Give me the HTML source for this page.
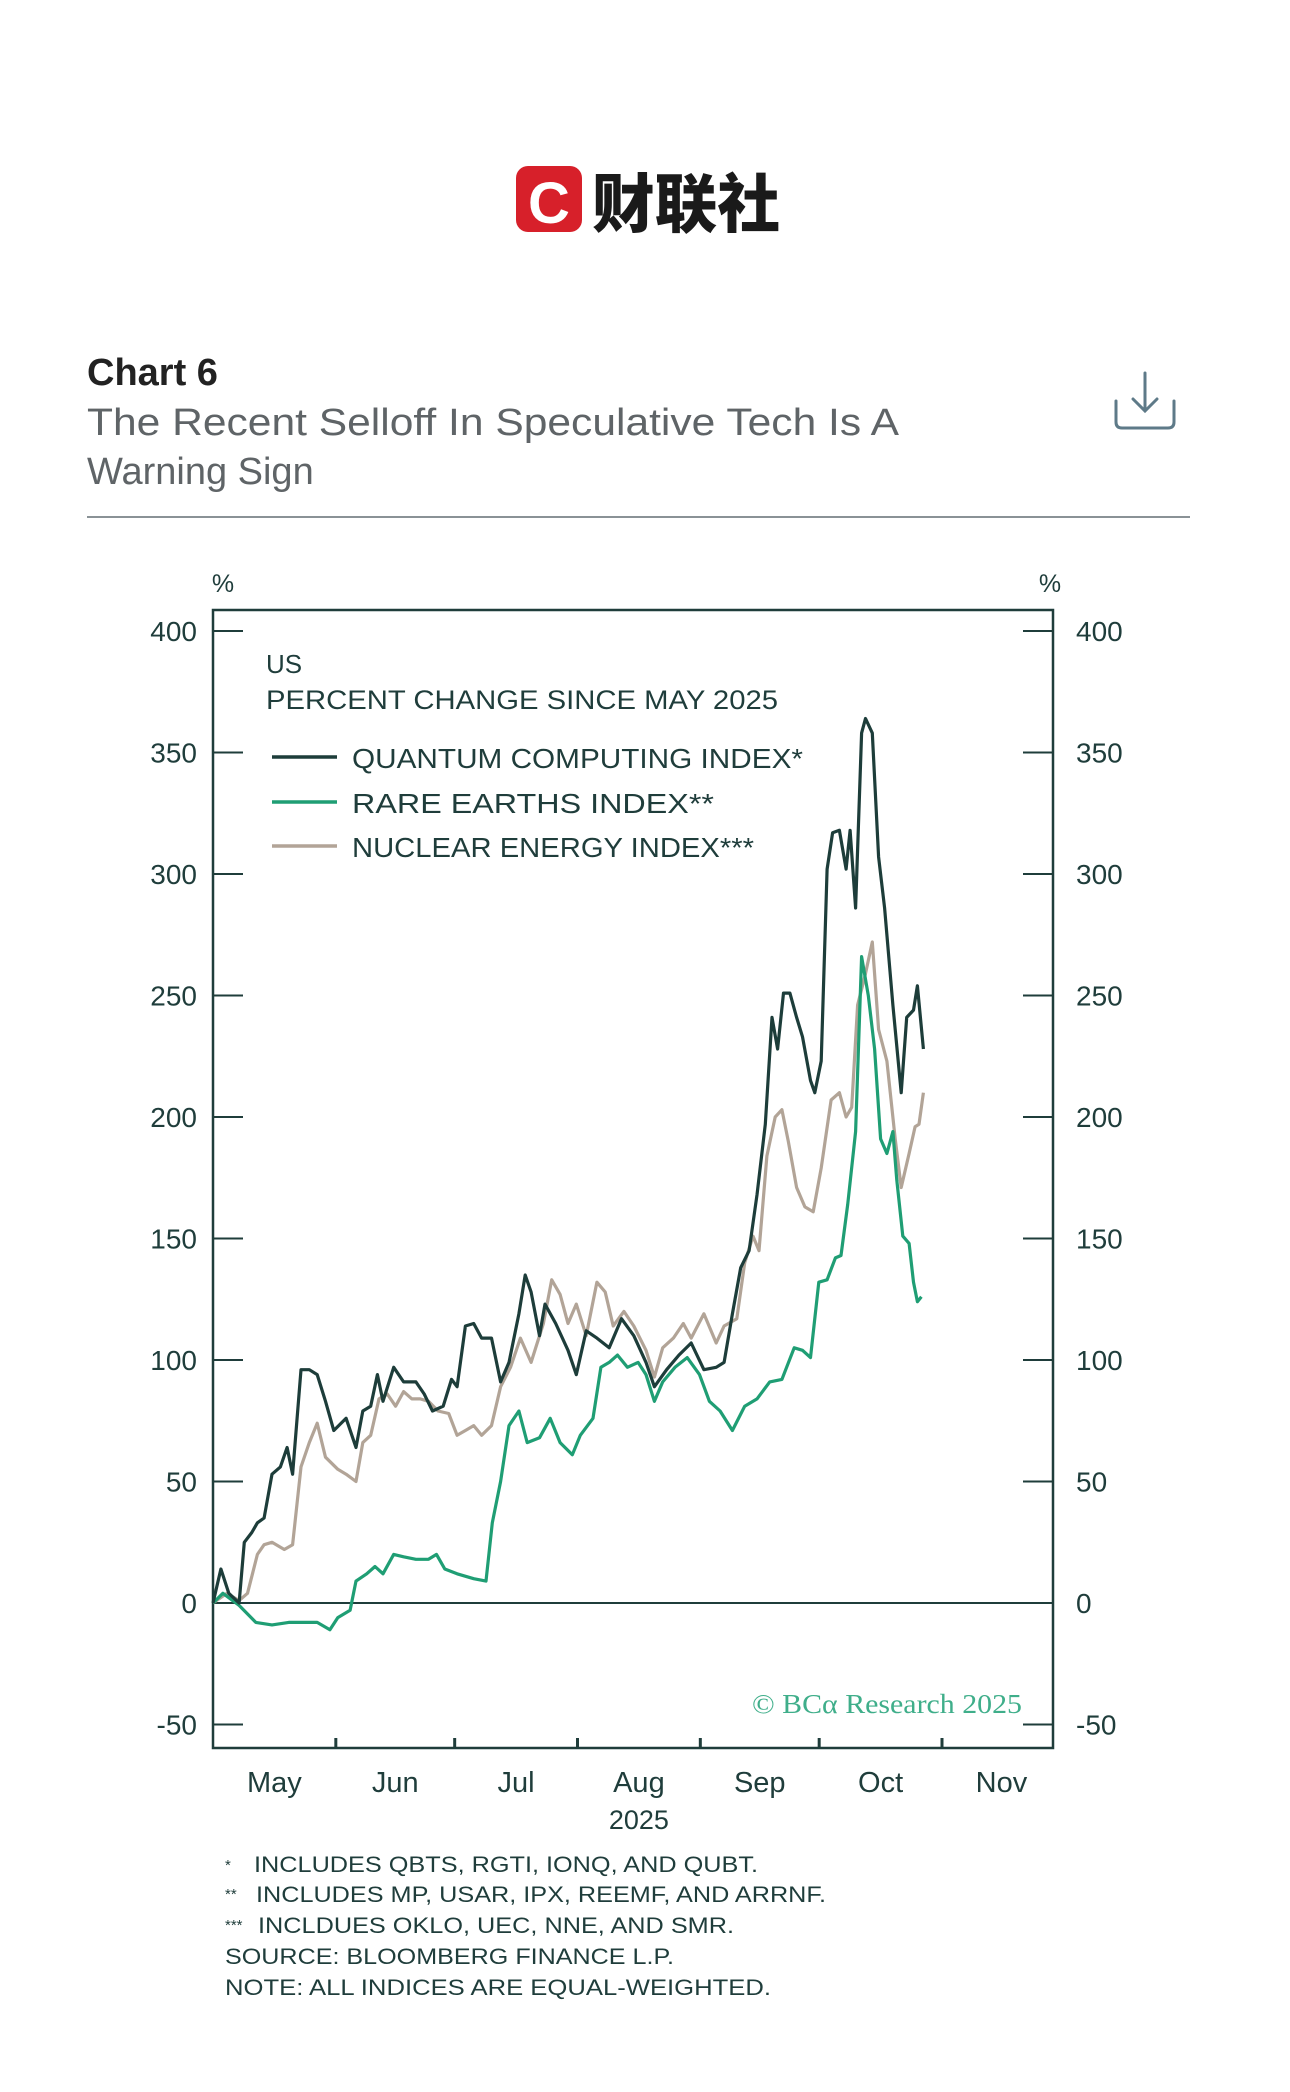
<!DOCTYPE html>
<html><head><meta charset="utf-8">
<style>
html,body{margin:0;padding:0;background:#fff;}
body{width:1290px;height:2092px;overflow:hidden;}
svg{display:block;}
text{font-family:"Liberation Sans","Noto Sans CJK SC",sans-serif;}
</style></head>
<body>
<svg id="page" width="1290" height="2092" viewBox="0 0 1290 2092" xmlns="http://www.w3.org/2000/svg">
  <g>
    <rect x="516" y="166" width="66" height="66" rx="12" fill="#d7202a"/>
    <text x="549" y="223" font-size="58" font-weight="bold" fill="#fff" text-anchor="middle" style="font-family:'Liberation Sans',sans-serif">C</text>
    <text x="592" y="227" font-size="64" font-weight="900" fill="#1a1a1a" textLength="188" lengthAdjust="spacingAndGlyphs" style="font-family:'Liberation Sans','Noto Sans CJK SC',sans-serif">财联社</text>
  </g>
  <text x="87" y="385" font-size="38" font-weight="bold" fill="#222">Chart 6</text>
  <text x="87" y="435" font-size="38" fill="#5f6467" textLength="812" lengthAdjust="spacingAndGlyphs">The Recent Selloff In Speculative Tech Is A</text>
  <text x="87" y="484" font-size="38" fill="#5f6467">Warning Sign</text>
  <g fill="none" stroke="#5e7a88" stroke-width="3" stroke-linecap="round">
    <line x1="1145" y1="373" x2="1145" y2="410"/>
    <polyline points="1133,399 1145,411 1157,399"/>
    <path d="M1116,401 V422 Q1116,428 1122,428 H1168 Q1174,428 1174,422 V401"/>
  </g>
  <line x1="87" y1="517" x2="1190" y2="517" stroke="#8a9296" stroke-width="2"/>
  <g id="chart"></g>
  <g fill="#1f3d3b" font-size="22">
    <text x="225" y="1870" font-size="15">*</text>
    <text x="254" y="1872" textLength="504" lengthAdjust="spacingAndGlyphs">INCLUDES QBTS, RGTI, IONQ, AND QUBT.</text>
    <text x="225" y="1899" font-size="15">**</text>
    <text x="256" y="1902" textLength="570" lengthAdjust="spacingAndGlyphs">INCLUDES MP, USAR, IPX, REEMF, AND ARRNF.</text>
    <text x="225" y="1930" font-size="15">***</text>
    <text x="258" y="1933" textLength="476" lengthAdjust="spacingAndGlyphs">INCLDUES OKLO, UEC, NNE, AND SMR.</text>
    <text x="225" y="1964" textLength="449" lengthAdjust="spacingAndGlyphs">SOURCE: BLOOMBERG FINANCE L.P.</text>
    <text x="225" y="1995" textLength="546" lengthAdjust="spacingAndGlyphs">NOTE: ALL INDICES ARE EQUAL-WEIGHTED.</text>
  </g>
</svg>
<script>
// ---- data ----
const yTicks = [400, 350, 300, 250, 200, 150, 100, 50, 0, -50];
const monthNames = ["May","Jun","Jul","Aug","Sep","Oct","Nov"];
const monthStartDays = [0, 31, 61, 92, 123, 153, 184, 214];
const quantumDays = [0,2,4,6.6,7.9,9.8,11.2,12.9,14.9,17,18.7,20.1,22.2,24.3,26.3,28.4,30.5,33.6,36.1,37.8,39.8,41.5,42.9,45.6,48.1,51.2,53.3,55.4,58.1,60.2,61.6,63.7,65.8,67.8,70.3,72.6,74.7,77.2,78.8,80.3,82.4,83.8,86.5,89.6,91.7,94.2,96.9,100,103.1,106.2,109.3,111.4,114.5,117.6,120.7,123.9,127,129,131.1,133.2,135.3,137.3,139.4,141.1,142.5,144,145.6,147.3,148.8,150.8,151.9,153.5,155,156.4,158.1,159.8,160.8,162.2,163.7,164.7,166.4,168,169.5,171.6,173.7,175.1,176.8,177.8,179.3];
const quantumValues = [0,14,4,0,25,29,33,35,53,56,64,53,96,96,94,83,71,76,64,79,81,94,83,97,91,91,86,79,81,92,89,114,115,109,109,91,99,119,135,128,110,123,115,104,94,112,109,105,117,110,99,89,96,102,107,96,97,99,119,138,145,168,197,241,228,251,251,241,233,215,210,223,302,317,318,302,318,286,358,364,358,307,286,246,210,241,244,254,228];
const rareDays = [0,2.5,6.6,10.8,14.9,19.1,23.2,26.3,29.5,31.5,34.6,36.1,38.8,40.9,42.9,45.6,48.1,51.2,54.4,56.4,58.5,61.6,65.8,68.9,70.5,72.6,74.7,77.2,79.3,82.4,85.1,87.6,90.7,92.7,95.9,97.9,100,102.1,104.6,107.3,109.3,111.4,113.5,116.6,119.7,122.8,125.3,128,131.1,134.2,137.3,140.5,143.6,146.7,148.8,150.8,152.9,155,157.1,158.5,160.2,162.2,163.7,165.4,167,168.5,170.1,171.6,172.6,174.1,175.7,176.8,177.8,178.8];
const rareValues = [0,4,-1,-8,-9,-8,-8,-8,-11,-6,-3,9,12,15,12,20,19,18,18,20,14,12,10,9,33,50,73,79,66,68,76,66,61,69,76,97,99,102,97,99,94,83,91,97,101,94,83,79,71,81,84,91,92,105,104,101,132,133,142,143,164,194,266,250,228,191,185,194,174,151,148,132,124,126];
const nuclearDays = [0,3.5,6.6,8.7,11.2,12.9,14.9,18,20.1,22.2,24.3,26.3,28.4,31.5,33.6,36.1,37.8,39.8,41.9,44,46.1,48.1,50.2,52.3,54.4,56.8,59.5,61.6,63.7,65.8,67.8,70.3,72.6,75.1,77.6,80.3,83.4,85.5,87.6,89.6,91.7,94.2,96.9,99,101,103.7,106.2,109.3,111.4,113.5,116.2,118.7,120.7,123.9,127,129,132.2,134.2,136.3,137.8,139.8,141.9,143.6,145.2,147.3,149.4,151.5,153.5,156,158.1,159.8,161.2,162.7,164.7,166.4,168,170.1,172.2,173.7,175.7,177.2,178.2,179.3];
const nuclearValues = [0,4,1,4,20,24,25,22,24,56,66,74,60,55,53,50,66,69,84,86,81,87,84,84,83,79,78,69,71,73,69,73,89,97,109,99,115,133,127,115,123,110,132,128,114,120,114,104,93,105,109,115,109,119,107,114,117,140,151,145,184,200,203,190,171,163,161,179,207,210,200,204,246,259,272,236,223,191,171,185,196,197,210];

// ---- layout ----
const NS = "http://www.w3.org/2000/svg";
const L = 213, R = 1053, T = 610, B = 1748;
const DAY0X = 213, PXPERDAY = (942 - 213) / 184;
const Y0 = 1603, PXPERUNIT = (1603 - 631) / 400;
const xScale = d => DAY0X + d * PXPERDAY;
const yScale = v => Y0 - v * PXPERUNIT;
const INK = "#1f3d3b";
const chart = document.getElementById("chart");
function mk(tag, attrs, parent) {
  const e = document.createElementNS(NS, tag);
  for (const k in attrs) e.setAttribute(k, attrs[k]);
  (parent || chart).appendChild(e);
  return e;
}

const frame = mk("rect", {x: L, y: T, width: R - L, height: B - T, fill: "none", stroke: INK, "stroke-width": 2.5});



const pl = mk("text", {x: 223, y: 592, "font-size": 25, fill: INK, "text-anchor": "middle"});
pl.textContent = "%";


const pr = mk("text", {x: 1050, y: 592, "font-size": 25, fill: INK, "text-anchor": "middle"});
pr.textContent = "%";



yTicks.forEach(v => {
  const y = yScale(v);
  const tl = mk("line", {x1: L, x2: L + 30, y1: y, y2: y, stroke: INK, "stroke-width": 2});
  
  
  const tr = mk("line", {x1: R - 30, x2: R, y1: y, y2: y, stroke: INK, "stroke-width": 2});
  
  
  const a = mk("text", {x: 197, y: y + 10, "font-size": 28, fill: INK, "text-anchor": "end"});
  a.textContent = v;
  
  
  const b = mk("text", {x: 1076, y: y + 10, "font-size": 28, fill: INK});
  b.textContent = v;
  
  
});

const zl = mk("line", {x1: L, x2: R, y1: yScale(0), y2: yScale(0), stroke: INK, "stroke-width": 2});



monthStartDays.slice(0, 7).forEach((d, i) => {
  const x = xScale(d);
  if (i > 0) {
    const t = mk("line", {x1: x, x2: x, y1: B, y2: B - 10, stroke: INK, "stroke-width": 3});
    
    
  }
  const mid = xScale((d + monthStartDays[i + 1]) / 2);
  const lab = mk("text", {x: mid, y: 1792, "font-size": 29, fill: INK, "text-anchor": "middle"});
  lab.textContent = monthNames[i];
  
  
});
const yr = mk("text", {x: xScale((monthStartDays[3] + monthStartDays[4]) / 2), y: 1829, "font-size": 27, fill: INK, "text-anchor": "middle"});
yr.textContent = "2025";



const us = mk("text", {x: 266, y: 673, "font-size": 26, fill: INK});
us.textContent = "US";


const pc = mk("text", {x: 266, y: 709, "font-size": 27, fill: INK, textLength: 512, lengthAdjust: "spacingAndGlyphs"});
pc.textContent = "PERCENT CHANGE SINCE MAY 2025";



function series(days, vals, color, name) {
  const pts = days.map((d, i) => xScale(d).toFixed(1) + "," + yScale(vals[i]).toFixed(1)).join(" ");
  const p = mk("polyline", {points: pts, fill: "none", stroke: color, "stroke-width": 3.2, "stroke-linejoin": "round"});
  
  
}
series(nuclearDays, nuclearValues, "#b2a497", "nuclear-energy-line");
series(rareDays, rareValues, "#1f9e74", "rare-earths-line");
series(quantumDays, quantumValues, "#1d3d3a", "quantum-computing-line");

const legendItems = [
  ["QUANTUM COMPUTING INDEX*", "#1d3d3a", 757, 451, "legend-quantum"],
  ["RARE EARTHS INDEX**", "#1f9e74", 802, 362, "legend-rare-earths"],
  ["NUCLEAR ENERGY INDEX***", "#b2a497", 846, 402, "legend-nuclear"]
];
legendItems.forEach(it => {
  const g = mk("g", {});
  
  
  mk("line", {x1: 272, x2: 337, y1: it[2], y2: it[2], stroke: it[1], "stroke-width": 3.5}, g);
  const t = mk("text", {x: 352, y: it[2] + 11, "font-size": 28, fill: INK, textLength: it[3], lengthAdjust: "spacingAndGlyphs"}, g);
  t.textContent = it[0];
});

const wm = mk("text", {x: 1022, y: 1713, "font-size": 27, fill: "#3fae8a", "text-anchor": "end", style: "font-family:'Liberation Serif',serif", textLength: 270, lengthAdjust: "spacingAndGlyphs"});
wm.textContent = "© BCα Research 2025";


</script>
</body></html>
